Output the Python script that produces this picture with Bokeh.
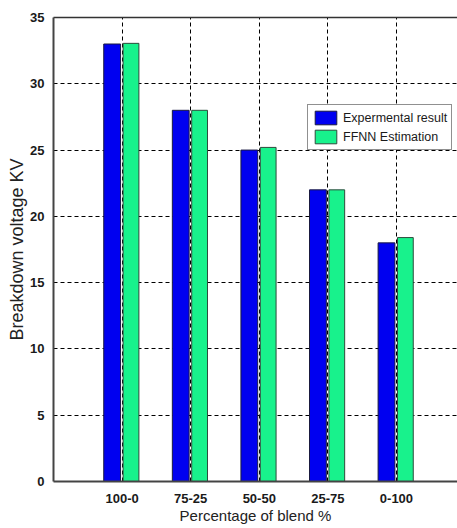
from bokeh.plotting import figure
from bokeh.models import (ColumnDataSource, Range1d, FixedTicker, LinearAxis,
                          Legend, LegendItem)
from bokeh.transform import dodge
from bokeh.embed import file_html
from bokeh.resources import INLINE

# Breakdown voltage (kV) for each blend ratio
blends = ["100-0", "75-25", "50-50", "25-75", "0-100"]
experimental = [33.0, 28.0, 25.0, 22.0, 18.0]
ffnn = [33.05, 28.0, 25.2, 22.0, 18.4]
y_ticks = [0, 5, 10, 15, 20, 25, 30, 35]

positions = list(range(1, len(blends) + 1))
src = ColumnDataSource(data=dict(x=positions, exp=experimental, ffnn=ffnn))

FONT = "'Liberation Sans', Arial, sans-serif"

p = figure(width=457, height=528, output_backend="svg", toolbar_location=None,
           x_range=Range1d(0, 5.89), y_range=Range1d(0, 35),
           min_border_left=53, min_border_right=0, min_border_top=17,
           min_border_bottom=47)
p.outline_line_color = None
p.background_fill_color = "white"
p.border_fill_color = "white"

exp_r = p.vbar(x=dodge("x", -0.145, range=p.x_range), top="exp", width=0.245,
               source=src, fill_color="#0000F0", line_color="#1a1a40",
               line_width=1)
ffnn_r = p.vbar(x=dodge("x", 0.13, range=p.x_range), top="ffnn", width=0.23,
                source=src, fill_color="#18F28C", line_color="#2e4a3c",
                line_width=1)

# x axis: blend labels
p.xaxis.ticker = FixedTicker(ticks=positions)
p.xaxis.major_label_overrides = {i: b for i, b in zip(positions, blends)}
p.xaxis.axis_label = "Percentage of blend %"
# y axis
p.yaxis.ticker = FixedTicker(ticks=y_ticks)
p.yaxis.axis_label = "Breakdown voltage KV"

for ax in (p.xaxis[0], p.yaxis[0]):
    ax.major_tick_line_color = None
    ax.minor_tick_line_color = None
    ax.axis_line_color = "#444444"
    ax.axis_line_width = 2
    ax.major_label_text_font = FONT
    ax.major_label_text_font_style = "bold"
    ax.major_label_text_font_size = "13px"
    ax.major_label_text_color = "#1a1a1a"
    ax.axis_label_text_font = FONT
    ax.axis_label_text_font_style = "normal"
    ax.axis_label_text_color = "#222222"

p.xaxis.major_label_standoff = 6
p.xaxis.axis_label_standoff = 1
p.xaxis.axis_label_text_font_size = "15px"
p.yaxis.major_label_standoff = 3
p.yaxis.axis_label_standoff = 0
p.yaxis.axis_label_text_font_size = "18px"

# top border line of the axes box
top = LinearAxis(ticker=FixedTicker(ticks=[]), major_label_text_font_size="0px",
                 axis_line_color="#333333", axis_line_width=1.5,
                 major_tick_line_color=None, minor_tick_line_color=None)
p.add_layout(top, "above")

# dashed grid
for g in (p.xgrid[0], p.ygrid[0]):
    g.grid_line_color = "black"
    g.grid_line_dash = "4 3"
    g.grid_line_width = 1
p.ygrid.ticker = FixedTicker(ticks=y_ticks[1:-1])

legend = Legend(items=[LegendItem(label="Expermental result", renderers=[exp_r]),
                       LegendItem(label="FFNN Estimation", renderers=[ffnn_r])],
                location=(254, 331))
legend.padding = 4
legend.spacing = 2
legend.margin = 0
legend.glyph_width = 27
legend.glyph_height = 17
legend.label_height = 17
legend.label_standoff = 4
legend.label_text_font = FONT
legend.label_text_font_size = "12.5px"
legend.label_text_color = "#1a1a1a"
legend.border_line_color = "#222222"
legend.border_line_width = 1
legend.background_fill_alpha = 1
p.add_layout(legend, "center")

open("out.html", "w").write(file_html(p, INLINE))
